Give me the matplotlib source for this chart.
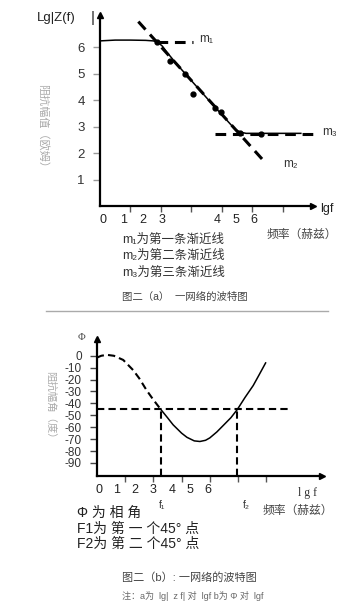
import matplotlib
matplotlib.use("Agg")
import matplotlib.pyplot as plt
import numpy as np

plt.rcParams['font.family'] = ['Liberation Sans', 'DejaVu Sans', 'Noto Sans CJK SC']
plt.rcParams['axes.unicode_minus'] = False

W, H = 357, 603

# --- 图二(a) 数据 ---
mag_curve_x = [0, 0.5, 1.0, 1.5, 1.75, 1.9, 2.05, 2.2, 2.5, 3.0, 3.5, 4.0, 4.3, 4.45, 4.6, 4.8, 5.2, 6.6]
mag_curve_y = [6.25, 6.28, 6.28, 6.27, 6.25, 6.2, 6.05, 5.82, 5.4, 4.75, 4.1, 3.46, 3.08, 2.9, 2.8, 2.75, 2.75, 2.75]
mag_pts_x = [1.86, 2.30, 2.80, 3.04, 3.78, 3.98, 4.60, 5.30]
mag_pts_y = [6.22, 5.47, 4.99, 4.23, 3.72, 3.55, 2.75, 2.74]
m1_x, m1_y = [1.87, 3.06], [6.22, 6.22]
m2_x, m2_y = [1.26, 5.45], [6.98, 1.62]
m3_x, m3_y = [3.78, 7.0], [2.74, 2.74]
mag_yticks = [1, 2, 3, 4, 5, 6]
mag_xticks = [1, 2, 3, 4, 5, 6]
mag_xlabels = ['0', '1', '2', '3', '4', '5', '6']

# --- 图二(b) 数据 ---
phase_x = [0.0, 0.15, 0.35, 0.6, 0.93, 1.28, 1.5, 1.76, 2.0, 2.26, 2.5, 2.7, 3.0, 3.19, 3.45,
           3.65, 3.85, 4.0, 4.25, 4.48, 4.75, 4.98, 5.25, 5.54, 5.75, 5.98]
phase_y = [-1.5, 0, 0.8, 0.0, -3.5, -12, -19, -29, -37, -45, -52, -58, -65, -68.5, -71.5,
           -72, -71, -69, -64, -58.5, -52, -45, -35, -25, -16, -6]
f1, f2 = 2.26, 4.98
phase_ref = -45
phase_yticks = [0, -10, -20, -30, -40, -50, -60, -70, -80, -90]
phase_xticks = [1, 2, 3, 4, 5, 6]
phase_xlabels = ['0', '1', '2', '3', '4', '5', '6']

fig = plt.figure(figsize=(W / 100, H / 100), dpi=100)


def px_axes(x0, y0, x1, y1):
    # 像素框 -> 图坐标
    return fig.add_axes([x0 / W, 1 - y1 / H, (x1 - x0) / W, (y1 - y0) / H])


def fig_text(x, y, s, **kw):
    fig.text(x / W, 1 - y / H, s, **kw)


def style_axes(ax, tick_color, ysize):
    for s in ['top', 'right']:
        ax.spines[s].set_visible(False)
    for s in ['left', 'bottom']:
        ax.spines[s].set_linewidth(1.6)
        ax.spines[s].set_color('black')
    ax.plot(1, 0, '>', color='black', ms=5, transform=ax.transAxes, clip_on=False)
    ax.plot(0, 1, '^', color='black', ms=5, transform=ax.transAxes, clip_on=False)
    ax.tick_params(axis='x', which='major', length=4, width=1, color='#555', labelbottom=False)
    ax.tick_params(axis='x', which='minor', length=0, pad=6, labelsize=9, labelcolor='#222')
    ax.tick_params(axis='y', length=5, width=1, color=tick_color, pad=6, labelsize=ysize, labelcolor='#333')
    ax.set_facecolor('none')


# ================= 图二(a) =================
ax1 = px_axes(100, 15, 313, 206)
ax1.set_xlim(0, 7.0)
ax1.set_ylim(0, 7.23)
style_axes(ax1, '#999', 9.5)
ax1.set_yticks(mag_yticks)
ax1.set_xticks(mag_xticks)
ax1.set_xticks([0.1, 0.76, 1.41, 2.04, 3.85, 4.47, 5.07], mag_xlabels, minor=True)

ax1.plot(mag_curve_x, mag_curve_y, color='black', lw=1.1)
ax1.plot(mag_pts_x, mag_pts_y, 'o', color='black', ms=3.5)
for xs, ys in [(m1_x, m1_y), (m2_x, m2_y), (m3_x, m3_y)]:
    ax1.plot(xs, ys, color='black', lw=2.2, dashes=(3.5, 2.2), clip_on=False)
ax1.text(3.27, 6.33, 'm₁', fontsize=8.5, color='#333', va='center')
ax1.text(6.02, 1.59, 'm₂', fontsize=8.5, color='#333', va='center')
ax1.text(7.3, 2.8, 'm₃', fontsize=8.5, color='#333', va='center', clip_on=False)

fig_text(37, 18, 'Lg|Z(f)', fontsize=9.5, color='#222', va='center')
fig_text(91, 18, '|', fontsize=11, color='#222', va='center')
fig_text(43, 129, '阻抗幅值（欧姆）', fontsize=8, color='#aaa', rotation=270,
         ha='center', va='center')
fig_text(320, 209, 'lgf', fontsize=9, color='#222', va='center')
fig_text(302, 235, '频率（赫兹）', fontsize=8.5, color='#444', ha='center', va='center')
fig_text(122, 240, 'm₁为第一条渐近线', fontsize=9, color='#333', va='center')
fig_text(122, 256, 'm₂为第二条渐近线', fontsize=9, color='#333', va='center')
fig_text(122, 273, 'm₃为第三条渐近线', fontsize=9, color='#333', va='center')
fig_text(185, 297, '图二（a）  一网络的波特图', fontsize=7.5, color='#444', ha='center', va='center')
fig.add_artist(plt.Line2D([46 / W, 328 / W], [1 - 311 / H, 1 - 311 / H], color='#aaa', lw=1))

# ================= 图二(b) =================
ax2 = px_axes(97, 339, 322, 476)
ax2.set_xlim(0, 7.98)
ax2.set_ylim(-101, 14.1)
style_axes(ax2, '#444', 8.5)
ax2.set_yticks(phase_yticks)
ax2.set_xticks(phase_xticks)
ax2.set_xticks([0.07, 0.7, 1.35, 1.99, 2.65, 3.3, 3.94], phase_xlabels, minor=True)

px = np.array(phase_x)
py = np.array(phase_y)
dash_part = px <= f1
ax2.plot(px[dash_part], py[dash_part], color='black', lw=1.5, dashes=(3.5, 2))
ax2.plot(px[px >= f1], py[px >= f1], color='black', lw=1.1)
ax2.plot([0, 6.84], [phase_ref, phase_ref], color='black', lw=1.5, dashes=(3.5, 2))
ax2.plot([f1, f1], [-101, phase_ref], color='black', lw=1.5, dashes=(3.5, 2))
ax2.plot([f2, f2], [-101, phase_ref], color='black', lw=1.5, dashes=(3.5, 2))

ax2.text(f1 + 0.05, -121, 'f₁', fontsize=7.5, color='#333', ha='center', va='top', clip_on=False)
ax2.text(f2 + 0.33, -121, 'f₂', fontsize=7.5, color='#333', ha='center', va='top', clip_on=False)

fig_text(82, 338, 'Φ', fontsize=7.5, color='#444', ha='center', va='center',
         family='Liberation Serif')
fig_text(50, 407, '阻抗幅角（度）', fontsize=7.5, color='#aaa', rotation=270,
         ha='center', va='center')
fig_text(298, 493, 'l g f', fontsize=8.5, color='#333', va='center', family='Liberation Serif')
fig_text(298, 511, '频率（赫兹）', fontsize=8.5, color='#444', ha='center', va='center')
fig_text(77, 513, 'Φ 为 相 角', fontsize=10, color='#222', va='center')
fig_text(77, 529, 'F1为 第 一 个45° 点', fontsize=10, color='#222', va='center')
fig_text(77, 544, 'F2为 第 二 个45° 点', fontsize=10, color='#222', va='center')
fig_text(189, 578, '图二（b）: 一网络的波特图', fontsize=8, color='#444', ha='center', va='center')
fig_text(193, 596, '注：a为  lg|  z f| 对  lgf b为 Φ 对  lgf', fontsize=6.5, color='#666',
         ha='center', va='center')

fig.savefig('out.png', dpi=100, facecolor='white')
